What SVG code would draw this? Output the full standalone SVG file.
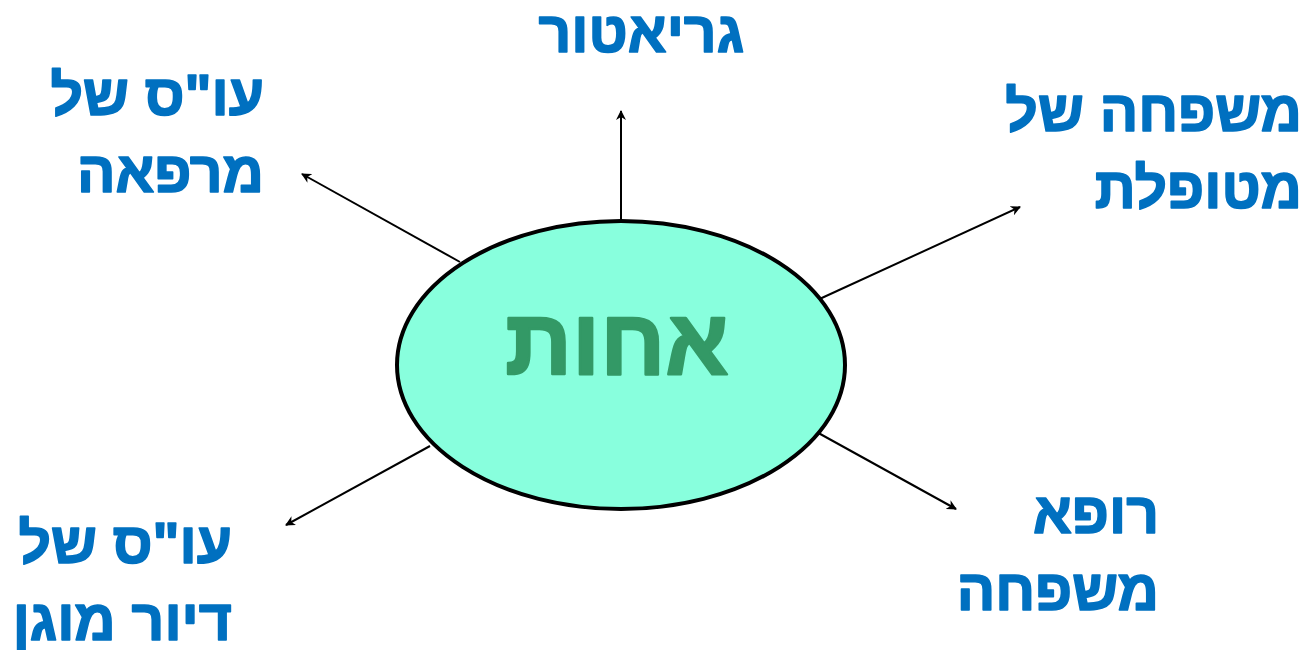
<svg xmlns="http://www.w3.org/2000/svg" width="1307" height="650" viewBox="0 0 1307 650">
  <style>
    .lbl { font-family: "Liberation Sans", "Open Sans", sans-serif; font-weight: bold; font-size: 57px; fill: #0070C0; stroke: #0070C0; stroke-width: 1.6px; stroke-linejoin: round; }
    .center { font-family: "Liberation Sans", "Open Sans", sans-serif; font-weight: bold; font-size: 93px; fill: #339966; stroke: #339966; stroke-width: 2.4px; stroke-linejoin: round; }
    .conn { stroke: #000; stroke-width: 2; fill: none; marker-end: url(#arrow); }
  </style>
  <defs>
    <marker id="arrow" viewBox="0 0 10 10" refX="9" refY="5" markerWidth="5" markerHeight="5" orient="auto" markerUnits="strokeWidth">
      <path d="M0,0 L10,5 L0,10 L3,5 Z" fill="#000"/>
    </marker>
  </defs>
  <rect width="1307" height="650" fill="#fff"/>

  <g id="connectors">
    <line class="conn" x1="621" y1="221" x2="621" y2="111"/>
    <line class="conn" x1="460" y1="262" x2="302" y2="174"/>
    <line class="conn" x1="813" y1="302" x2="1020" y2="207"/>
    <line class="conn" x1="430" y1="446" x2="286" y2="525"/>
    <line class="conn" x1="813" y1="430" x2="956" y2="509"/>
  </g>

  <g id="nurse">
    <ellipse cx="621" cy="365" rx="224" ry="144" fill="#88FFDD" stroke="#000" stroke-width="4"/>
    <text class="center" x="617" y="374" text-anchor="middle">אחות</text>
  </g>

  <g id="geriatrician">
    <text class="lbl" x="744" y="52" text-anchor="end">גריאטור</text>
  </g>

  <g id="clinic-social-worker">
    <text class="lbl" x="264" y="115" text-anchor="end">עו"ס של</text>
    <text class="lbl" x="264" y="192" text-anchor="end">מרפאה</text>
  </g>

  <g id="patient-family">
    <text class="lbl" x="1302" y="131" text-anchor="end">משפחה של</text>
    <text class="lbl" x="1302" y="208" text-anchor="end">מטופלת</text>
  </g>

  <g id="family-doctor">
    <text class="lbl" x="1159" y="533" text-anchor="end">רופא</text>
    <text class="lbl" x="1159" y="610" text-anchor="end">משפחה</text>
  </g>

  <g id="assisted-living-social-worker">
    <text class="lbl" x="232" y="563" text-anchor="end">עו"ס של</text>
    <text class="lbl" x="232" y="640" text-anchor="end">דיור מוגן</text>
  </g>
</svg>
